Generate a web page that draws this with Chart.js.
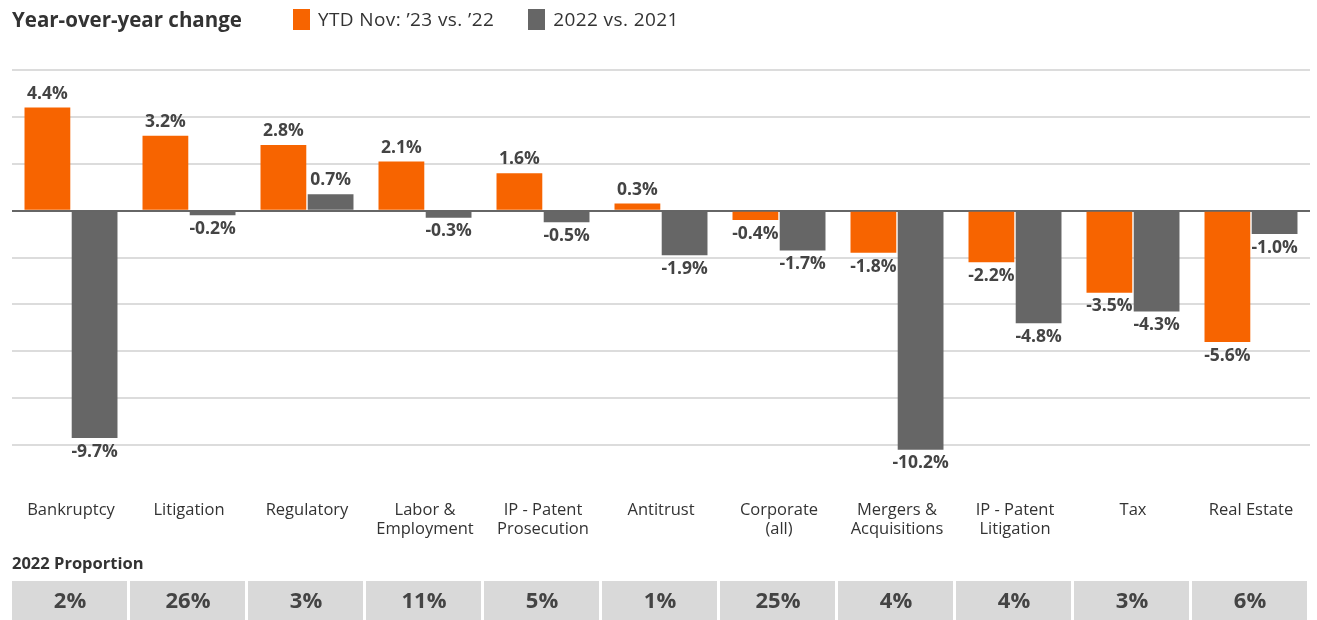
<!DOCTYPE html>
<html>
<head>
<meta charset="utf-8">
<script src="https://cdn.jsdelivr.net/npm/chart.js@4/dist/chart.umd.min.js"></script>
<style>
  body { margin: 0; background: #fff; font-family: "Open Sans", sans-serif; }
  #wrap { position: relative; width: 1317px; height: 620px; overflow: hidden; }
  #chart { position: absolute; left: 0; top: 0; }
  .head { position: absolute; top: 5px; left: 12px; display: flex; align-items: center; color: #333; }
  .title { font-weight: 700; font-size: 20.5px; margin-right: 51px; }
  .item { display: flex; align-items: center; font-size: 19px; letter-spacing: 0.4px; margin-right: 34px; }
  .swatch { width: 17px; height: 21px; margin-right: 8px; }
</style>
</head>
<body>
<div id="wrap">
  <canvas id="chart" width="1317" height="620"></canvas>
  <div class="head">
    <span class="title">Year-over-year change</span>
    <span class="item"><span class="swatch" style="background:#f76400"></span>YTD Nov: ’23 vs. ’22</span>
    <span class="item"><span class="swatch" style="background:#666666"></span>2022 vs. 2021</span>
  </div>
</div>
<script>
// Kategorien und Werte
const categories = [
    'Bankruptcy', 'Litigation', 'Regulatory', ['Labor &', 'Employment'],
    ['IP - Patent', 'Prosecution'], 'Antitrust', ['Corporate', '(all)'],
    ['Mergers &', 'Acquisitions'], ['IP - Patent', 'Litigation'], 'Tax', 'Real Estate'
];
const ytd2023 = [4.4, 3.2, 2.8, 2.1, 1.6, 0.3, -0.4, -1.8, -2.2, -3.5, -5.6];
const change2022 = [-9.7, -0.2, 0.7, -0.3, -0.5, -1.9, -1.7, -10.2, -4.8, -4.3, -1.0];
const proportion2022 = ['2%', '26%', '3%', '11%', '5%', '1%', '25%', '4%', '4%', '3%', '6%'];
const yTicks = [-10, -8, -6, -4, -2, 0, 2, 4, 6];

// Werte-Beschriftung an den Balken
const valueLabels = {
    id: 'valueLabels',
    afterDatasetsDraw(chart) {
        const ctx = chart.ctx;
        ctx.save();
        ctx.font = 'bold 17.5px "Open Sans"';
        ctx.fillStyle = '#444';
        ctx.textAlign = 'center';
        chart.data.datasets.forEach((ds, di) => {
            chart.getDatasetMeta(di).data.forEach((bar, i) => {
                const v = ds.data[i];
                const txt = v.toFixed(1) + '%';
                if (v >= 0) {
                    ctx.textBaseline = 'bottom';
                    ctx.fillText(txt, bar.x, bar.y - 5);
                } else {
                    ctx.textBaseline = 'top';
                    ctx.fillText(txt, bar.x, bar.y + 5);
                }
            });
        });
        ctx.restore();
    }
};

// Tabelle "2022 Proportion" unter der Achse
const proportionRow = {
    id: 'proportionRow',
    afterDraw(chart) {
        const ctx = chart.ctx;
        const x = chart.scales.x;
        const half = (x.getPixelForValue(1) - x.getPixelForValue(0)) / 2;
        ctx.save();
        ctx.fillStyle = '#333';
        ctx.font = 'bold 16.5px "Open Sans"';
        ctx.textAlign = 'left';
        ctx.textBaseline = 'middle';
        ctx.fillText('2022 Proportion', chart.chartArea.left, 564);
        proportion2022.forEach((p, i) => {
            const cx = x.getPixelForValue(i);
            ctx.fillStyle = '#d9d9d9';
            ctx.fillRect(cx - half, 581, half * 2 - 3, 45);
            ctx.fillStyle = '#444';
            ctx.font = 'bold 22px "Open Sans"';
            ctx.textAlign = 'center';
            ctx.fillText(p, cx - 1, 602);
        });
        ctx.restore();
    }
};

new Chart(document.getElementById('chart'), {
    type: 'bar',
    data: {
        labels: categories,
        datasets: [
            { label: 'YTD Nov: ’23 vs. ’22', data: ytd2023, backgroundColor: '#f76400', clip: false },
            { label: '2022 vs. 2021', data: change2022, backgroundColor: '#666666', clip: false }
        ]
    },
    options: {
        responsive: false,
        animation: false,
        devicePixelRatio: 1,
        categoryPercentage: 0.8,
        barPercentage: 0.97,
        layout: { padding: { left: 12, right: 7, top: 70, bottom: 0 } },
        plugins: { legend: { display: false }, tooltip: { enabled: false } },
        scales: {
            x: {
                grid: { display: false },
                border: { display: false },
                afterFit: axis => {
                    axis.paddingLeft = 0;
                    axis.paddingRight = 0;
                    axis.height = 175;
                },
                ticks: {
                    padding: 48,
                    color: '#333',
                    maxRotation: 0,
                    autoSkip: false,
                    font: { family: 'Open Sans', size: 16.5, lineHeight: 1.15 }
                }
            },
            y: {
                min: -10,
                max: 6,
                afterBuildTicks: axis => { axis.ticks = yTicks.map(v => ({ value: v })); },
                ticks: { display: false },
                border: { display: false },
                grid: {
                    drawTicks: false,
                    color: c => c.tick.value === 0 ? '#666' : '#dcdcdc',
                    lineWidth: 2
                }
            }
        }
    },
    plugins: [valueLabels, proportionRow]
});
</script>
</body>
</html>
